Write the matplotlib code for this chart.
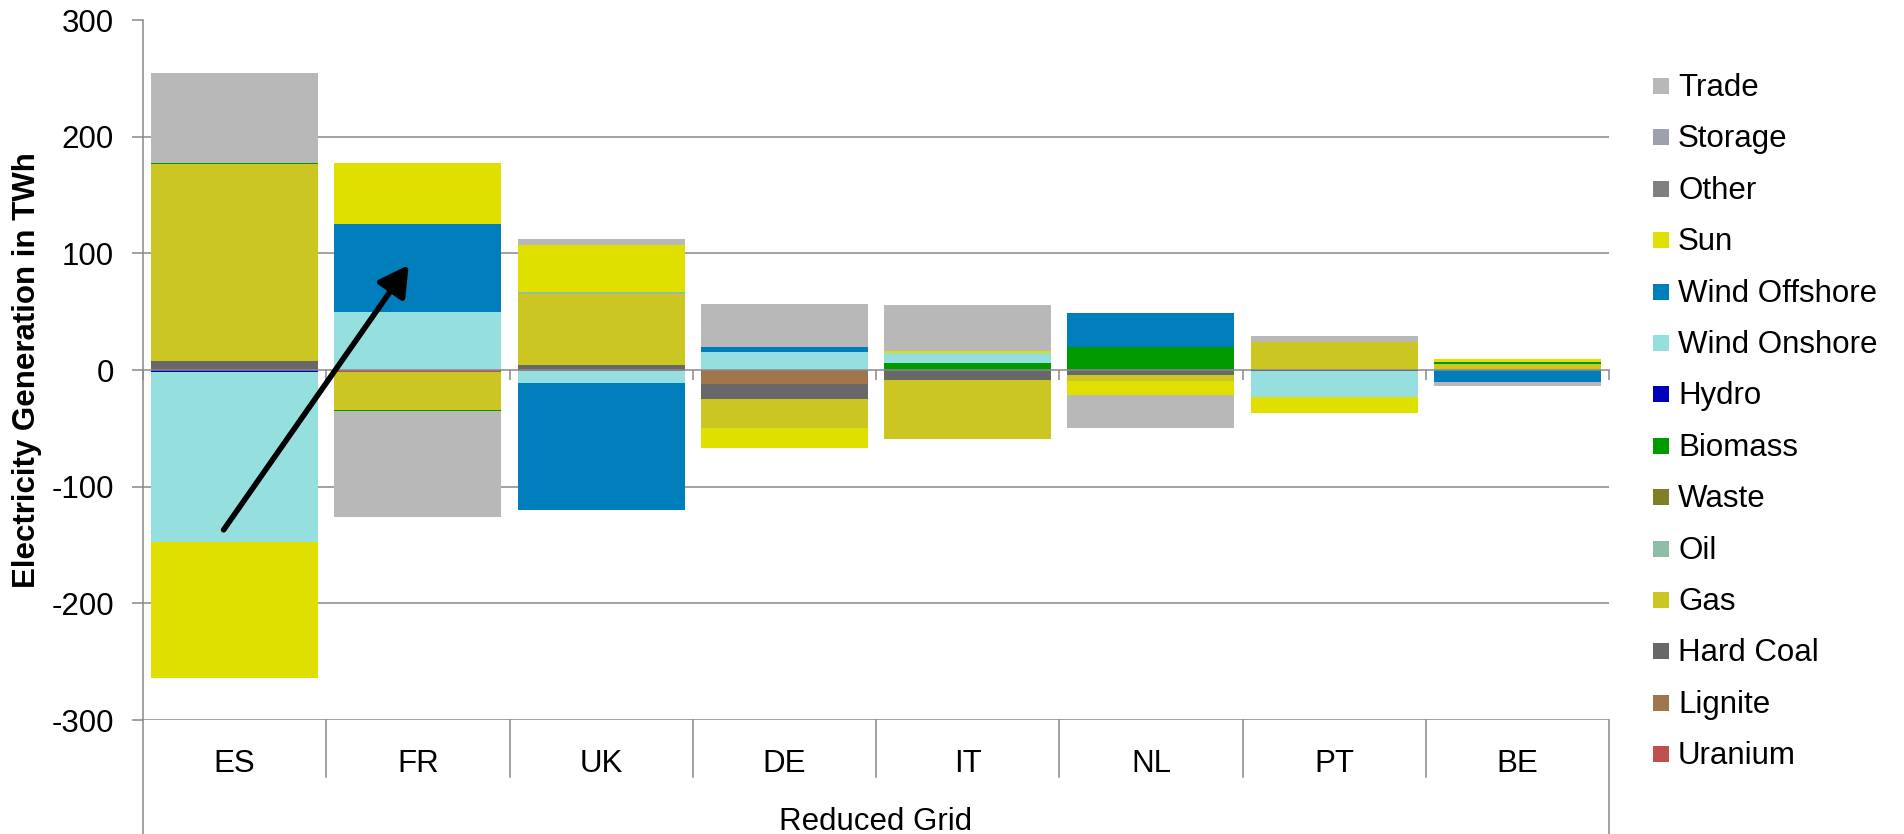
import numpy as np
import matplotlib
matplotlib.use("Agg")
import matplotlib.pyplot as plt
import matplotlib.transforms as mtransforms
from matplotlib.patches import Rectangle

plt.rcParams["font.family"] = ["Liberation Sans", "DejaVu Sans"]
plt.rcParams["axes.unicode_minus"] = False

# ---- data -------------------------------------------------------------
countries = ["ES", "FR", "UK", "DE", "IT", "NL", "PT", "BE"]
group_label = "Reduced Grid"
y_label = "Electricity Generation in TWh"
y_ticks = [-300, -200, -100, 0, 100, 200, 300]

# stacking order, bottom to top
uranium       = [0.0, -2.0, -1.0, 0.0, 0.0, 0.0, 0.0, 0.0]
lignite       = [0.0, 0.0, 0.0, -12.0, 0.0, 0.0, 0.0, 0.0]
hard_coal     = [8.0, 0.0, 4.5, -13.0, -8.5, -4.0, 0.0, 0.0]
gas           = [169.0, -32.0, 61.0, -25.0, -51.0, -5.0, 24.0, 5.2]
oil           = [0.0, 0.0, 1.0, 0.0, 0.0, 0.0, 0.0, 0.0]
waste         = [0.0, 0.0, 0.0, 0.0, 0.0, 0.0, 0.0, 0.0]
biomass       = [0.6, -1.0, 0.0, 0.0, 6.0, 20.0, 0.0, 1.6]
hydro         = [-2.0, 0.0, 0.0, 0.0, 0.0, 0.0, -0.8, 0.0]
wind_onshore  = [-145.0, 50.0, -10.0, 15.4, 9.0, 0.0, -22.0, 0.0]
wind_offshore = [0.0, 75.0, -109.0, 4.5, 0.0, 29.0, 0.0, -10.0]
sun           = [-117.0, 52.0, 41.0, -17.0, 1.0, -12.0, -14.0, 2.5]
other         = [0.0, 0.0, 0.0, 0.0, 0.0, 0.0, 0.0, 0.0]
storage       = [0.0, 0.0, 0.0, 0.0, 0.0, 0.0, 0.0, 0.0]
trade         = [77.0, -91.0, 5.0, 37.0, 40.0, -29.0, 5.0, -4.0]

series = [
    ("Uranium", uranium, "#C0504D"),
    ("Lignite", lignite, "#A0754B"),
    ("Hard Coal", hard_coal, "#686868"),
    ("Gas", gas, "#CBC622"),
    ("Oil", oil, "#8FBDA8"),
    ("Waste", waste, "#7F7F28"),
    ("Biomass", biomass, "#009900"),
    ("Hydro", hydro, "#0000BB"),
    ("Wind Onshore", wind_onshore, "#95DFDF"),
    ("Wind Offshore", wind_offshore, "#007DBB"),
    ("Sun", sun, "#E0E000"),
    ("Other", other, "#808080"),
    ("Storage", storage, "#9EA0AE"),
    ("Trade", trade, "#B8B8B8"),
]

# arrow from the ES bar towards the FR bar (category units, TWh)
arrow_tail = (-0.06, -137.0)
arrow_head = (0.95, 90.0)

# ---- figure -------------------------------------------------------------
W, H = 1904, 834
fig = plt.figure(figsize=(W / 100, H / 100), dpi=100)
ax_left, ax_right, ax_top, ax_bottom = 143, 1609, 20, 720
ax = fig.add_axes([ax_left / W, 1 - ax_bottom / H,
                   (ax_right - ax_left) / W, (ax_bottom - ax_top) / H])

grid_c = "#898989"
grid_lw = 1.1
fs = 22.5

x = np.arange(len(countries))
pos_base = np.zeros(len(countries))
neg_base = np.zeros(len(countries))
for name, vals, col in series:
    v = np.asarray(vals, dtype=float)
    bottoms = np.where(v >= 0, pos_base, neg_base)
    ax.bar(x, v, width=0.91, bottom=bottoms, color=col, linewidth=0, zorder=2)
    pos_base = pos_base + np.where(v > 0, v, 0)
    neg_base = neg_base + np.where(v < 0, v, 0)

ax.set_xlim(-0.5, len(countries) - 0.5)
ax.set_ylim(y_ticks[0], y_ticks[-1])

# horizontal gridlines (none at the top value, zero is the category axis)
for t in y_ticks[:-1]:
    if t != 0:
        ax.axhline(t, color=grid_c, lw=grid_lw, zorder=0.5)

for s in ["top", "right"]:
    ax.spines[s].set_visible(False)
ax.spines["left"].set_color(grid_c)
ax.spines["left"].set_linewidth(grid_lw)
ax.spines["bottom"].set_position(("data", 0))
ax.spines["bottom"].set_color(grid_c)
ax.spines["bottom"].set_linewidth(grid_lw)
ax.spines["bottom"].set_zorder(3)

ax.set_yticks(y_ticks)
ax.set_yticklabels([str(t) for t in y_ticks])
ax.tick_params(axis="y", direction="out", length=8, width=grid_lw,
               color=grid_c, labelsize=fs, pad=13)
ax.set_xticks(np.arange(-0.5, len(countries), 1.0))
ax.set_xticklabels([])
ax.tick_params(axis="x", direction="out", length=7, width=grid_lw, color=grid_c)

# multi-level category axis below the plot
blend = mtransforms.blended_transform_factory(ax.transData, fig.transFigure)
y_axbot = 1 - ax_bottom / H
y_sep = 1 - 777 / H
for k in range(len(countries) + 1):
    xb = k - 0.5
    y0 = 0.0 if k in (0, len(countries)) else y_sep
    ax.plot([xb, xb], [y0, y_axbot], transform=blend, color=grid_c,
            lw=grid_lw, clip_on=False, zorder=1)
for i, c in enumerate(countries):
    ax.text(i, 1 - 772 / H, c, transform=blend, ha="center", va="baseline",
            fontsize=fs)
ax.text((len(countries) - 1) / 2, 1 - 830 / H, group_label, transform=blend,
        ha="center", va="baseline", fontsize=fs)

fig.text(26.7 / W, 1 - 370 / H, y_label, rotation=90, ha="center",
         va="center", fontsize=fs, fontweight="bold")

# arrow
ax.annotate("", xy=arrow_head, xytext=arrow_tail,
            arrowprops=dict(arrowstyle="-|>,head_length=0.45,head_width=0.25",
                            color="black", lw=4, shrinkA=0, shrinkB=0,
                            mutation_scale=40),
            zorder=4)

# legend, top entry first
step = 51.4
for i, (name, vals, col) in enumerate(reversed(series)):
    yc = 86 + i * step
    fig.patches.append(Rectangle((1653 / W, 1 - (yc + 8) / H), 16 / W, 16 / H,
                                 transform=fig.transFigure, facecolor=col,
                                 edgecolor="none"))
    fig.text(1678 / W, 1 - (96 + i * step) / H, name, ha="left",
             va="baseline", fontsize=fs)

fig.savefig("out.png", dpi=100)
